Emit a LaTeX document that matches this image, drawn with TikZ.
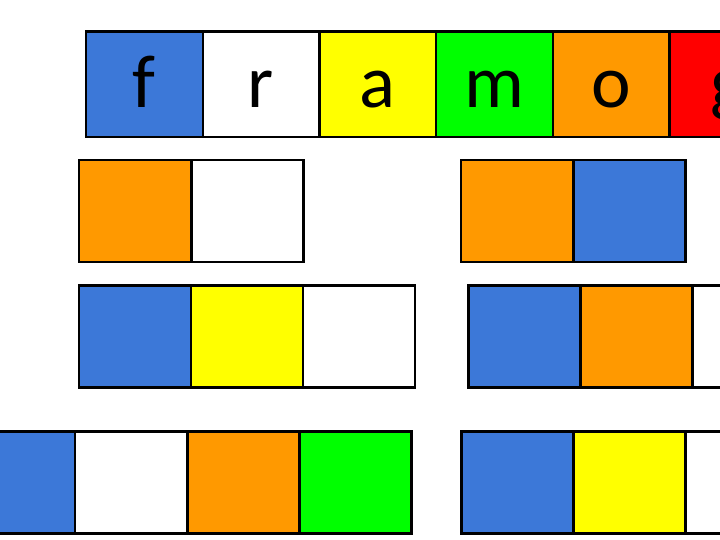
\documentclass[tikz,border=0pt]{standalone}
\usepackage{fontspec}
\setmainfont{Carlito}
\definecolor{cblue}{HTML}{3C78D8}
\definecolor{corange}{HTML}{FF9900}
\definecolor{cyellow}{HTML}{FFFF00}
\definecolor{cgreen}{HTML}{00FF00}
\definecolor{cred}{HTML}{FF0000}
\tikzset{
  cell/.style={draw=black, line width=2.4pt, rectangle, anchor=north west, inner sep=0pt, outer sep=0pt, minimum width=112pt, minimum height=102pt},
  bigcell/.style={cell, minimum width=116.7pt, minimum height=105.5pt, font=\fontsize{75}{80}\selectfont, text height=47.5pt, text depth=0pt},
}
\begin{document}
\begin{tikzpicture}[x=1pt,y=-1pt]
\clip (0,0) rectangle (720,540);
\fill[white] (0,0) rectangle (720,540);
% top word row
\node[bigcell, fill=cblue] (f) at (86,31.5) {f};
\node[bigcell, fill=white] (r) at (202.7,31.5) {r};
\node[bigcell, fill=cyellow] (a) at (319.4,31.5) {a};
\node[bigcell, fill=cgreen] (m) at (436.1,31.5) {m};
\node[bigcell, fill=corange] (o) at (552.8,31.5) {o};
\node[bigcell, fill=cred] (g) at (669.5,31.5) {g};
% row 2
\node[cell, fill=corange] (b1) at (79,160) {};
\node[cell, fill=white] (b2) at (191.3,160) {};
\node[cell, fill=corange] (c1) at (461,160) {};
\node[cell, fill=cblue] (c2) at (573.3,160) {};
% row 3
\node[cell, fill=cblue] (d1) at (79,285.3) {};
\node[cell, fill=cyellow] (d2) at (191,285.3) {};
\node[cell, fill=white] (d3) at (303,285.3) {};
\node[cell, fill=cblue] (e1) at (468.3,285.3) {};
\node[cell, fill=corange] (e2) at (580.3,285.3) {};
\node[cell, fill=white] (e3) at (692.3,285.3) {};
% row 4
\node[cell, fill=cblue] (h1) at (-37,431.3) {};
\node[cell, fill=white] (h2) at (75,431.3) {};
\node[cell, fill=corange] (h3) at (187.3,431.3) {};
\node[cell, fill=cgreen] (h4) at (299.3,431.3) {};
\node[cell, fill=cblue] (k1) at (461.3,431.3) {};
\node[cell, fill=cyellow] (k2) at (573.3,431.3) {};
\node[cell, fill=white] (k3) at (685.3,431.3) {};
\end{tikzpicture}
\end{document}
